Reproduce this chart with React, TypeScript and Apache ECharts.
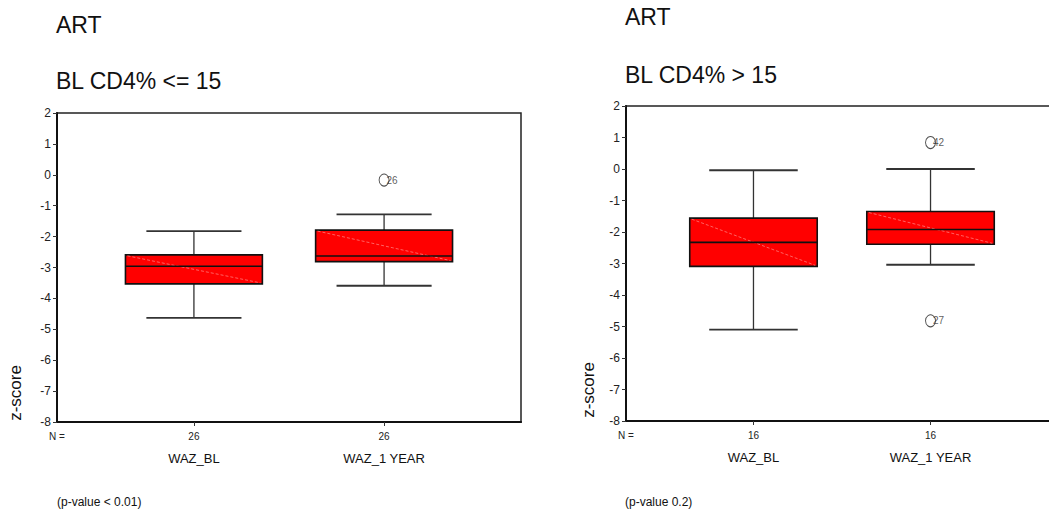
import React, { useEffect, useRef } from "react";
import * as echarts from "echarts";

// ---- data ----
const CATEGORIES = ["WAZ_BL", "WAZ_1 YEAR"];
const PANEL_TITLES = ["ART", "ART"];
const PANEL_SUBTITLES = ["BL CD4% <= 15", "BL CD4% > 15"];
const P_VALUES = ["(p-value < 0.01)", "(p-value 0.2)"];
const Y_AXIS_NAME = "z-score";
const Y_MIN = -8;
const Y_MAX = 2;
const Y_INTERVAL = 1;

const LEFT_N = [26, 26];
const RIGHT_N = [16, 16];

// [min, Q1, median, Q3, max]
const LEFT_STATS = [
  [-4.63, -3.53, -2.96, -2.59, -1.82],
  [-3.59, -2.81, -2.63, -1.79, -1.28],
];
const RIGHT_STATS = [
  [-5.1, -3.09, -2.33, -1.56, -0.04],
  [-3.04, -2.39, -1.92, -1.35, 0.0],
];

// [category position, value, case label]
const LEFT_OUTLIERS = [[2, -0.17, "26"]];
const RIGHT_OUTLIERS = [
  [2, 0.84, "42"],
  [2, -4.82, "27"],
];

// ---- layout / style ----
const FONT = "'Liberation Sans', Arial, sans-serif";
const X_MIN = 0.28;
const X_MAX = 2.72;
const BOX_W = 0.72;
const CAP_W = 0.5;

function boxData(stats: number[][]) {
  return stats.map((s, i) => [i + 1, ...s]);
}

function renderBox(params: any, api: any) {
  const x = api.value(0);
  const lo = api.coord([x, api.value(1)]);
  const q1 = api.coord([x, api.value(2)]);
  const med = api.coord([x, api.value(3)]);
  const q3 = api.coord([x, api.value(4)]);
  const hi = api.coord([x, api.value(5)]);
  const bw = api.size([BOX_W, 0], [x, 0])[0];
  const cw = api.size([CAP_W, 0], [x, 0])[0];
  const cx = lo[0];
  const line = (x1: number, y1: number, x2: number, y2: number, stroke: string, lw: number, dash?: number[]) => ({
    type: "line",
    shape: { x1, y1, x2, y2 },
    style: { stroke, lineWidth: lw, lineDash: dash },
  });
  return {
    type: "group",
    children: [
      line(cx, q3[1], cx, hi[1], "#333", 1.3),
      line(cx, q1[1], cx, lo[1], "#333", 1.3),
      line(cx - cw / 2, hi[1], cx + cw / 2, hi[1], "#333", 1.8),
      line(cx - cw / 2, lo[1], cx + cw / 2, lo[1], "#333", 1.8),
      {
        type: "rect",
        shape: { x: cx - bw / 2, y: q3[1], width: bw, height: q1[1] - q3[1] },
        style: { fill: "#ff0000", stroke: "#111", lineWidth: 1.6 },
      },
      line(cx - bw / 2 + 2, q3[1] + 1, cx + bw / 2 - 2, q1[1] - 1, "#ff8c8c", 0.7, [3, 2]),
      line(cx - bw / 2, med[1], cx + bw / 2, med[1], "#111", 1.6),
    ],
  };
}

function xFormatter(nList: number[]) {
  return (v: number) => {
    const r = Math.round(v);
    if (Math.abs(v - r) > 0.01 || r < 1 || r > CATEGORIES.length) return "{n|N =}";
    return `{n|${nList[r - 1]}}\n{c|${CATEGORIES[r - 1]}}`;
  };
}

function xAxisFor(gridIndex: number, nList: number[]) {
  return {
    type: "value",
    gridIndex,
    min: X_MIN,
    max: X_MAX,
    splitLine: { show: false },
    axisLine: { show: true, onZero: false, lineStyle: { color: "#111", width: 2.2 } },
    axisTick: { show: true, length: 4, customValues: [1, 2], lineStyle: { color: "#333", width: 1 } },
    axisLabel: {
      show: true,
      margin: 8,
      customValues: [X_MIN, 1, 2],
      formatter: xFormatter(nList),
      rich: {
        n: { fontSize: 10, lineHeight: 12, color: "#222", fontFamily: FONT },
        c: { fontSize: 13, lineHeight: 32, color: "#111", fontFamily: FONT },
      },
    },
  };
}

function yAxisFor(gridIndex: number) {
  return {
    type: "value",
    gridIndex,
    min: Y_MIN,
    max: Y_MAX,
    interval: Y_INTERVAL,
    splitLine: { show: false },
    axisLine: { show: true, onZero: false, lineStyle: { color: "#111", width: 2 } },
    axisTick: { show: true, length: 4, lineStyle: { color: "#333", width: 1 } },
    axisLabel: { margin: 6, fontSize: 12, color: "#222", fontFamily: FONT },
  };
}

function outlierSeries(idx: number, data: any[]) {
  return {
    type: "scatter",
    xAxisIndex: idx,
    yAxisIndex: idx,
    data,
    encode: { x: 0, y: 1 },
    symbol: "circle",
    symbolSize: [10, 12],
    itemStyle: { color: "#fff", borderColor: "#222", borderWidth: 1 },
    label: {
      show: true,
      position: "right",
      distance: -3,
      fontSize: 10,
      color: "#333",
      fontFamily: FONT,
      formatter: (p: any) => p.value[2],
    },
    z: 5,
  };
}

function boxSeries(idx: number, stats: number[][]) {
  return {
    type: "custom",
    xAxisIndex: idx,
    yAxisIndex: idx,
    data: boxData(stats),
    encode: { x: 0, y: [1, 2, 3, 4, 5] },
    renderItem: renderBox,
    z: 3,
  };
}

function txt(x: number, y: number, text: string, size: number, extra: any = {}) {
  return {
    type: "text",
    x,
    y,
    silent: true,
    style: {
      text,
      fontSize: size,
      fontFamily: FONT,
      fill: "#111",
      textVerticalAlign: "middle",
      verticalAlign: "middle",
      ...extra,
    },
  };
}

export default function App() {
  const ref = useRef<HTMLDivElement>(null);
  useEffect(() => {
    if (!ref.current) return;
    const chart = echarts.init(ref.current, null, { renderer: "svg" });
    chart.setOption({
      animation: false,
      backgroundColor: "#fff",
      grid: [
        {
          left: 57, top: 113, width: 464, height: 309,
          show: true, borderColor: "#222", borderWidth: 1.5,
          containLabel: false, outerBoundsMode: "none",
        },
        {
          left: 626, top: 106, width: 432, height: 315,
          show: true, borderColor: "#222", borderWidth: 1.5,
          containLabel: false, outerBoundsMode: "none",
        },
      ],
      xAxis: [xAxisFor(0, LEFT_N), xAxisFor(1, RIGHT_N)],
      yAxis: [yAxisFor(0), yAxisFor(1)],
      series: [
        boxSeries(0, LEFT_STATS),
        boxSeries(1, RIGHT_STATS),
        outlierSeries(0, LEFT_OUTLIERS),
        outlierSeries(1, RIGHT_OUTLIERS),
      ],
      graphic: [
        txt(56, 25, PANEL_TITLES[0], 23),
        txt(56, 81, PANEL_SUBTITLES[0], 23),
        txt(625, 17, PANEL_TITLES[1], 23),
        txt(625, 75, PANEL_SUBTITLES[1], 23),
        { ...txt(15, 393, Y_AXIS_NAME, 17, { align: "center", textAlign: "center" }), rotation: Math.PI / 2 },
        { ...txt(588, 390, Y_AXIS_NAME, 17, { align: "center", textAlign: "center" }), rotation: Math.PI / 2 },
        txt(57, 502, P_VALUES[0], 12),
        txt(625, 502, P_VALUES[1], 12),
      ],
    });
    return () => chart.dispose();
  }, []);
  return <div ref={ref} style={{ position: "fixed", left: 0, top: 0, width: 1049, height: 515 }} />;
}
